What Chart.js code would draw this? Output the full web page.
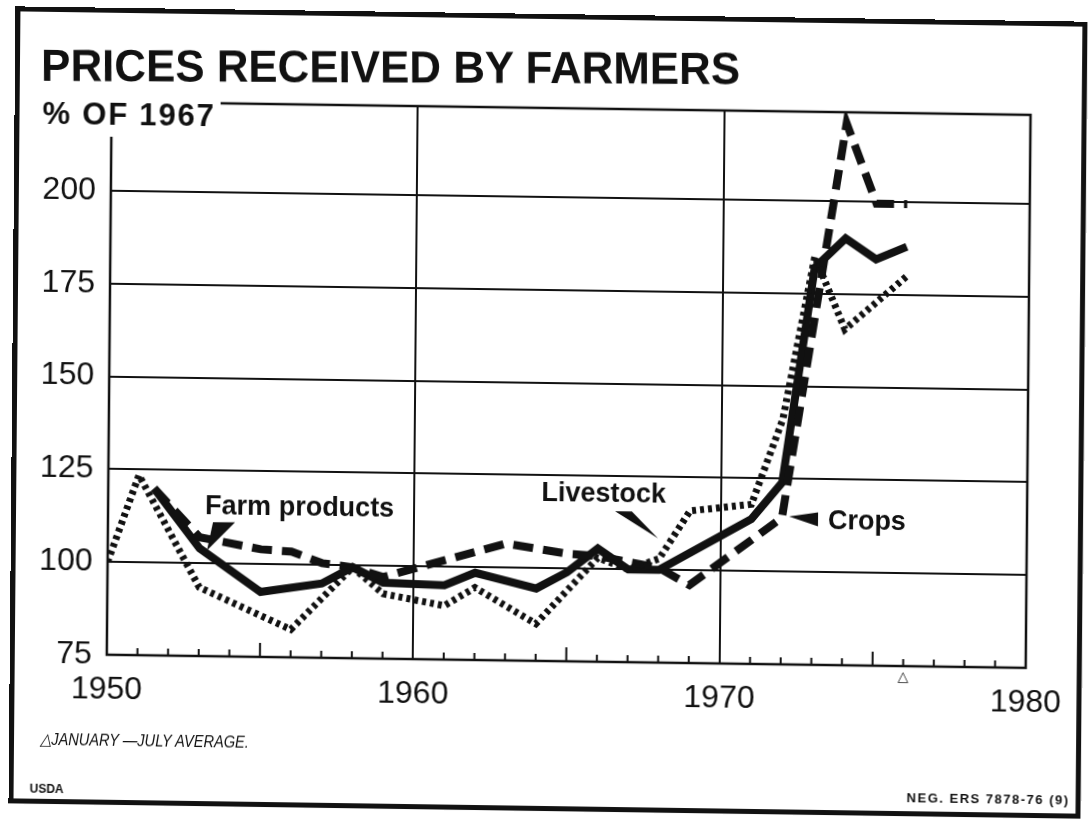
<!DOCTYPE html>
<html>
<head>
<meta charset="utf-8">
<title>Prices received by farmers</title>
<script src="https://cdn.jsdelivr.net/npm/chart.js@4.4.1/dist/chart.umd.min.js"></script>
<style>
  html, body { margin: 0; padding: 0; background: #fff; }
  body { width: 1092px; height: 819px; overflow: hidden; }
  #page {
    position: relative; width: 1092px; height: 819px;
    transform: matrix(1, 0.0143, -0.0088, 1, 0, 0);
    transform-origin: 546px 409.5px;
    font-family: "Liberation Sans", Arial, sans-serif; color: #111;
  }
  #chart { position: absolute; left: 0; top: 0; }
  .txt { position: absolute; white-space: nowrap; line-height: 1; }
  #frame {
    position: absolute; left: 12px; top: 14px; width: 1072px; height: 797px;
    box-sizing: border-box; border: 5px solid #111;
  }
  #title { left: 38px; top: 50px; font-size: 45px; font-weight: bold;
           transform: rotate(-0.55deg) scaleX(0.975); transform-origin: left top; }
  #unit { left: 36px; top: 101px; font-size: 31px; font-weight: bold; letter-spacing: 1.8px;
          background: #fff; padding: 4px 4px 6px 4px; }
  #note { left: 43px; top: 738px; font-size: 17px; font-style: italic;
          transform: scaleX(0.86); transform-origin: left top; }
  #usda { left: 33px; top: 790px; font-size: 12px; font-weight: bold; }
  #neg { left: 910px; top: 786px; font-size: 13px; font-weight: bold; letter-spacing: 1.5px; }
</style>
</head>
<body>
<div id="page">
  <canvas id="chart" width="1092" height="819"></canvas>
  <div id="frame"></div>
  <div class="txt" id="title">PRICES RECEIVED BY FARMERS</div>
  <div class="txt" id="unit">% OF 1967</div>
  <div class="txt" id="note">&#9651;JANUARY —JULY AVERAGE.</div>
  <div class="txt" id="usda">USDA</div>
  <div class="txt" id="neg">NEG. ERS 7878-76 (9)</div>
</div>
<script>
// values (% of 1967)
const xTicks = [1950, 1960, 1970, 1980];
const yTicks = [75, 100, 125, 150, 175, 200];

const farmYears = [1951.5, 1953, 1955, 1957, 1958, 1959, 1961, 1962, 1964, 1965, 1966, 1967, 1968, 1971, 1972, 1973, 1974, 1975, 1976];
const farmValues = [120, 104, 92.5, 95, 99.5, 95.5, 95, 98.5, 94.5, 99, 105.5, 100, 100, 114, 124, 182, 190, 184.5, 188];

const cropsYears = [1951.5, 1953, 1955, 1956, 1957, 1958, 1959, 1963, 1965, 1966, 1968, 1969, 1972, 1974, 1975, 1976];
const cropsValues = [120, 107, 104, 103.5, 100.5, 99.5, 97, 106.5, 104, 103.5, 100.5, 96, 114.5, 221, 199.5, 199.5];

const livestockYears = [1950, 1951, 1953, 1956, 1958, 1959, 1961, 1962, 1964, 1966, 1967, 1968, 1969, 1971, 1972, 1973, 1974, 1976];
const livestockValues = [100, 123.5, 93.5, 82.5, 99.5, 92.5, 89.5, 94.5, 85, 103, 100, 103, 116, 118, 141, 185, 165.5, 180];

// series labels and their pointers, in data units
const labelText = ["Farm products", "Livestock", "Crops"];
const labelAt = [[1953.17, 113.3], [1964.14, 118], [1973.5, 111.7]];
const pointerTip = [[1953.24, 103.5], [1967.96, 108.5], [1972.23, 114.9]];
const pointerBase = [
  [[1953.43, 111.1], [1954.15, 111.2]],
  [[1966.55, 115.6], [1967.1, 115.6]],
  [[1973.18, 116.1], [1973.18, 112.3]]
];
const partialYear = 1976;

const FONT = "'Liberation Sans', Arial, sans-serif";

function pts(xs, ys) {
  return xs.map((x, i) => ({ x: x, y: ys[i] }));
}

const extras = {
  id: "extras",
  afterDraw(chart) {
    const ctx = chart.ctx;
    const a = chart.chartArea;
    const xs = chart.scales.x, ys = chart.scales.y;
    ctx.save();
    ctx.strokeStyle = "#111";
    ctx.fillStyle = "#111";
    // plot frame
    ctx.lineWidth = 2.5;
    ctx.strokeRect(a.left, a.top, a.right - a.left, a.bottom - a.top);
    // inward year ticks on the bottom axis
    ctx.lineWidth = 2;
    for (let yr = 1951; yr < 1980; yr++) {
      if (yr % 10 === 0) continue;
      const px = xs.getPixelForValue(yr);
      const len = yr % 5 === 0 ? 14 : 7;
      ctx.beginPath();
      ctx.moveTo(px, a.bottom);
      ctx.lineTo(px, a.bottom - len);
      ctx.stroke();
    }
    // partial-year mark
    ctx.font = "14px " + FONT;
    ctx.textAlign = "center";
    ctx.textBaseline = "top";
    ctx.fillText("\u25B3", xs.getPixelForValue(partialYear), a.bottom + 4);
    // pointers
    for (let i = 0; i < labelText.length; i++) {
      const t = pointerTip[i], b = pointerBase[i];
      ctx.beginPath();
      ctx.moveTo(xs.getPixelForValue(b[0][0]), ys.getPixelForValue(b[0][1]));
      ctx.lineTo(xs.getPixelForValue(b[1][0]), ys.getPixelForValue(b[1][1]));
      ctx.lineTo(xs.getPixelForValue(t[0]), ys.getPixelForValue(t[1]));
      ctx.closePath();
      ctx.fill();
    }
    // labels
    ctx.font = "bold 27px " + FONT;
    ctx.textAlign = "left";
    ctx.textBaseline = "alphabetic";
    for (let i = 0; i < labelText.length; i++) {
      ctx.fillText(labelText[i], xs.getPixelForValue(labelAt[i][0]), ys.getPixelForValue(labelAt[i][1]));
    }
    ctx.restore();
  }
};

const ctx = document.getElementById("chart").getContext("2d");
new Chart(ctx, {
  type: "line",
  data: {
    datasets: [
      {
        label: "Livestock",
        data: pts(livestockYears, livestockValues),
        borderColor: "#111",
        borderWidth: 7,
        borderDash: [4, 4],
        borderCapStyle: "butt",
        borderJoinStyle: "miter",
        pointRadius: 0,
        tension: 0,
        fill: false
      },
      {
        label: "Crops",
        data: pts(cropsYears, cropsValues),
        borderColor: "#111",
        borderWidth: 8,
        borderDash: [20, 10],
        borderCapStyle: "butt",
        borderJoinStyle: "miter",
        pointRadius: 0,
        tension: 0,
        fill: false
      },
      {
        label: "Farm products",
        data: pts(farmYears, farmValues),
        borderColor: "#111",
        borderWidth: 8,
        borderJoinStyle: "miter",
        pointRadius: 0,
        tension: 0,
        fill: false
      }
    ]
  },
  options: {
    responsive: false,
    animation: false,
    layout: { padding: { left: 39, right: 64, top: 108, bottom: 108 } },
    plugins: {
      legend: { display: false },
      tooltip: { enabled: false }
    },
    scales: {
      x: {
        type: "linear",
        min: 1950,
        max: 1980,
        afterBuildTicks: s => { s.ticks = xTicks.map(v => ({ value: v })); },
        afterFit: s => { s.height = 50; },
        border: { display: false },
        grid: { color: "#111", lineWidth: 2, drawTicks: false },
        ticks: {
          font: { family: FONT, size: 32 },
          color: "#111",
          padding: 16,
          maxRotation: 0,
          autoSkip: false,
          callback: v => String(v)
        }
      },
      y: {
        min: 75,
        max: 224,
        afterBuildTicks: s => { s.ticks = yTicks.map(v => ({ value: v })); },
        afterFit: s => { s.width = 70; },
        border: { display: false },
        grid: { color: "#111", lineWidth: 2, drawTicks: false },
        ticks: {
          font: { family: FONT, size: 32 },
          color: "#111",
          padding: 15,
          autoSkip: false,
          callback: v => String(v)
        }
      }
    }
  },
  plugins: [extras]
});
</script>
</body>
</html>
